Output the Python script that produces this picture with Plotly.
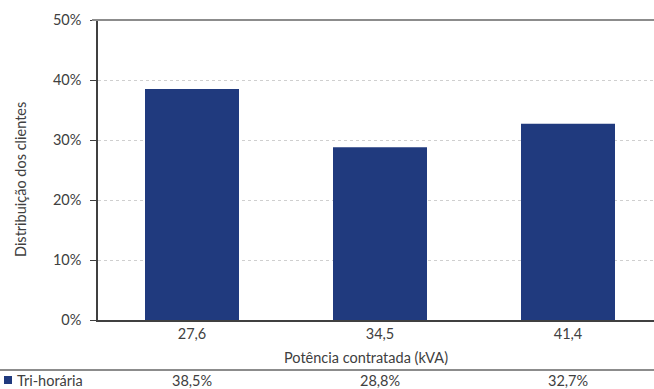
import plotly.graph_objects as go

# Contracted power levels and share of clients (tri-hourly tariff)
categories = ["27,6", "34,5", "41,4"]
shares = [38.5, 28.8, 32.7]
share_labels = ["38,5%", "28,8%", "32,7%"]
series_name = "Tri-horária"
y_ticks = [0, 10, 20, 30, 40, 50]
y_tick_labels = ["0%", "10%", "20%", "30%", "40%", "50%"]

BAR = "#203a7e"
TXT = "#404040"
FONT = "Lato"
FS = 14.5

W, H = 654, 389
ML, MT, MB = 98, 20, 69
plot_h = H - MT - MB
plot_w = W - ML

def py(pix):
    # pixel row -> paper y
    return (H - MB - pix) / plot_h

def px(pix):
    # pixel column -> paper x
    return (pix - ML) / plot_w

fnt = dict(size=FS, color=TXT, family=FONT)

fig = go.Figure(
    go.Bar(
        x=list(range(len(categories))),
        y=shares,
        width=0.5,
        marker=dict(color=BAR, line=dict(width=0)),
        name=series_name,
        hoverinfo="skip",
    )
)

annotations = [
    dict(x=i, y=py(380), xref="x", yref="paper", text=lab, showarrow=False,
         font=fnt, xanchor="center", yanchor="middle")
    for i, lab in enumerate(share_labels)
]
annotations += [
    dict(x=px(15), y=py(380), xref="paper", yref="paper", text=series_name, showarrow=False,
         font=fnt, xanchor="left", yanchor="middle"),
    dict(x=px(366), y=py(357), xref="paper", yref="paper", text="Potência contratada (kVA)",
         showarrow=False, font=fnt, xanchor="center", yanchor="middle"),
    dict(x=px(20), y=py(180), xref="paper", yref="paper", text="Distribuição dos clientes",
         textangle=-90, showarrow=False, font=fnt, xanchor="center", yanchor="middle"),
]

shapes = [
    # top frame line
    dict(type="line", xref="paper", yref="paper", x0=px(92), x1=1, y0=1, y1=1,
         line=dict(color="#8c8c8c", width=2)),
    # table separator
    dict(type="line", xref="paper", yref="paper", x0=px(0), x1=1, y0=py(370), y1=py(370),
         line=dict(color="#8c8c8c", width=2)),
    # legend swatch
    dict(type="rect", xref="paper", yref="paper", x0=px(4), x1=px(12), y0=py(384), y1=py(376),
         fillcolor=BAR, line=dict(width=0)),
]

fig.update_layout(
    width=W, height=H,
    margin=dict(l=ML, r=0, t=MT, b=MB),
    paper_bgcolor="white", plot_bgcolor="white",
    showlegend=False,
    font=fnt,
    annotations=annotations,
    shapes=shapes,
    xaxis=dict(
        range=[-0.5, 2.5 - 8 / 188],
        tickmode="array", tickvals=list(range(len(categories))), ticktext=categories,
        showline=True, linecolor="#404040", linewidth=1.5,
        ticks="", showgrid=False, zeroline=False,
        tickfont=fnt,
        fixedrange=True,
    ),
    yaxis=dict(
        range=[0, 50],
        tickmode="array", tickvals=y_ticks, ticktext=y_tick_labels,
        showline=True, linecolor="#404040", linewidth=1.5,
        ticks="outside", ticklen=6, tickcolor="#404040", tickwidth=1,
        ticklabelstandoff=6,
        showgrid=True, gridcolor="#cfcfcf", griddash="dot", gridwidth=1,
        zeroline=False,
        tickfont=fnt,
        fixedrange=True,
    ),
)

fig.write_html("out.html", config=dict(displayModeBar=False))
